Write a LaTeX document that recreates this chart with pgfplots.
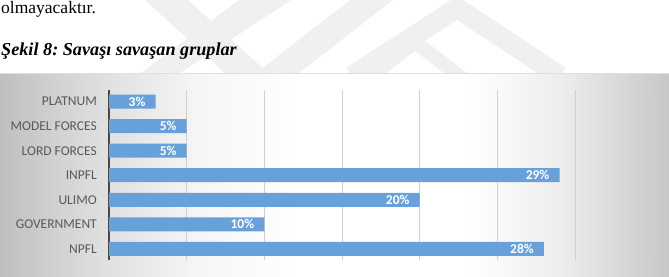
\documentclass[border=0pt]{standalone}
\usepackage{pgfplots}
\pgfplotsset{compat=1.18}
\usepackage{fontspec}
\setmainfont{Liberation Serif}
\newfontfamily\carlito{Carlito}
\definecolor{barblue}{RGB}{104,160,218}
\definecolor{ticktext}{RGB}{89,89,89}
\definecolor{wm}{RGB}{240,240,240}
\pgfdeclarehorizontalshading{bgshade}{100bp}{color(0bp)=(gray!50); color(25bp)=(gray!50); color(32.5bp)=(gray!25); color(40bp)=(gray!7); color(47.5bp)=(white); color(60bp)=(white); color(67bp)=(gray!14); color(75bp)=(gray!44); color(100bp)=(gray!44)}
\begin{document}
\frenchspacing
\begin{tikzpicture}
\begin{scope}[x=1bp,y=1bp]
\useasboundingbox (0,0) rectangle (669,276);
\fill[white] (0,0) rectangle (669,276);
% faint watermark bands
\begin{scope}
\clip (0,203) rectangle (669,276);
\fill[wm] (145,276) -- (188,276) -- (268,203) -- (225,203) -- cycle;
\fill[wm] (239,276) -- (291,276) -- (180,203) -- (141,203) -- cycle;
\fill[wm] (350,276) -- (393,276) -- (299,203) -- (256,203) -- cycle;
\draw[wm, line width=20bp] (352,200) -- (457,268) -- (560,200);
\draw[wm, line width=14bp] (368,198) -- (415,234) -- (462,198);
\end{scope}
\node[anchor=base west, inner sep=0pt] at (1,263) {\fontsize{17.5bp}{20bp}\selectfont olmayacaktır.};
\node[anchor=base west, inner sep=0pt] at (1,221) {\fontsize{18.2bp}{20bp}\selectfont\bfseries\itshape Şekil 8: Savaşı savaşan gruplar};
% chart area background
\shade[shading=bgshade] (0,0) rectangle (669,203);
\draw[gray!25, line width=0.8bp] (0,203) -- (669,203);
\end{scope}
\begin{axis}[
  at={(109bp,16bp)}, anchor=south west,
  scale only axis, width=543.7bp, height=170bp,
  xmin=0, xmax=35, ymin=-0.45, ymax=6.47,
  xbar, bar width=14bp,
  axis lines*=left,
  x axis line style={draw=none},
  y axis line style={draw=black!72, line width=1.2bp},
  xtick={5,10,...,35}, xticklabels={},
  xmajorgrids, major grid style={draw=gray!38, line width=0.8bp},
  major tick length=0pt,
  ytick={0,1,2,3,4,5,6},
  yticklabels={NPFL,GOVERNMENT,ULIMO,INPFL,LORD FORCES,MODEL FORCES,PLATNUM},
  yticklabel style={anchor=east, inner sep=0pt, xshift=-12bp, text=ticktext, font=\carlito\fontsize{13.5bp}{16bp}\selectfont},
  point meta=x,
  nodes near coords={\pgfmathprintnumber[assume math mode=true]{\pgfplotspointmeta}\%},
  every node near coord/.append style={anchor=east, inner sep=0pt, xshift=-10bp, text=white, font=\carlito\bfseries\fontsize{13.5bp}{16bp}\selectfont},
  clip=false,
]
\addplot[fill=barblue, draw=none] coordinates {
  (28,0) (10,1) (20,2) (29,3) (5,4) (5,5) (3,6)
};
\end{axis}
\end{tikzpicture}
\end{document}
